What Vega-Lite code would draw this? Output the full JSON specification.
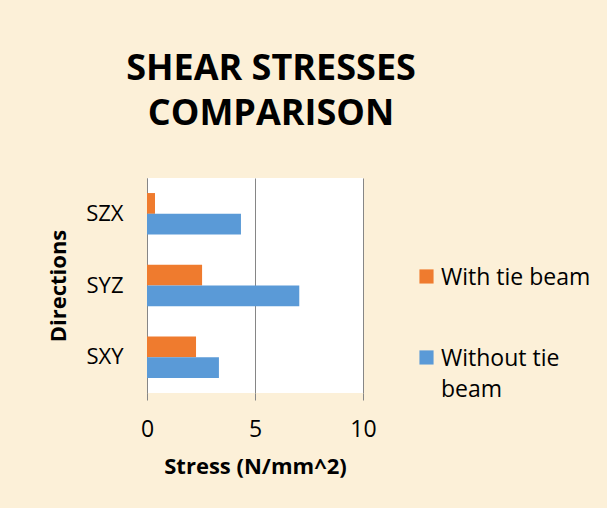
{
  "$schema": "https://vega.github.io/schema/vega-lite/v6.json",
  "width": 216,
  "height": 215,
  "autosize": {"type": "none"},
  "padding": {"left": 147, "top": 178, "right": 244, "bottom": 115},
  "background": "#FCF0D8",
  "config": {
    "view": {"fill": "white", "stroke": null},
    "font": "Open Sans",
    "style": {"guide-label": {"lineHeight": 31}}
  },
  "title": {
    "text": ["SHEAR STRESSES", "COMPARISON"],
    "font": "Open Sans",
    "fontSize": 36,
    "fontWeight": "bold",
    "lineHeight": 45,
    "color": "black",
    "anchor": "middle",
    "dx": 16,
    "offset": 45
  },
  "data": {
    "values": [
      {"direction": "SZX", "series": "With tie beam", "stress": 0.37},
      {"direction": "SZX", "series": "Without tie beam", "stress": 4.35},
      {"direction": "SYZ", "series": "With tie beam", "stress": 2.55},
      {"direction": "SYZ", "series": "Without tie beam", "stress": 7.05},
      {"direction": "SXY", "series": "With tie beam", "stress": 2.27},
      {"direction": "SXY", "series": "Without tie beam", "stress": 3.33}
    ]
  },
  "mark": {"type": "bar"},
  "encoding": {
    "y": {
      "field": "direction",
      "type": "nominal",
      "sort": ["SZX", "SYZ", "SXY"],
      "scale": {"paddingInner": 0.42, "paddingOuter": 0.21},
      "axis": {
        "title": "Directions",
        "titleFont": "Open Sans",
        "titleFontSize": 22,
        "titleFontWeight": "bold",
        "titleColor": "black",
        "titlePadding": 15,
        "labelFont": "Open Sans",
        "labelFontSize": 22,
        "labelColor": "black",
        "labelPadding": 24,
        "ticks": false,
        "domain": true,
        "domainColor": "#868686",
        "domainWidth": 1
      }
    },
    "yOffset": {"field": "series", "sort": ["With tie beam", "Without tie beam"]},
    "x": {
      "field": "stress",
      "type": "quantitative",
      "scale": {"domain": [0, 10]},
      "axis": {
        "title": "Stress (N/mm^2)",
        "values": [0, 5, 10],
        "titleFont": "Open Sans",
        "titleFontSize": 22,
        "titleFontWeight": "bold",
        "titleColor": "black",
        "titlePadding": 15,
        "labelFont": "Open Sans",
        "labelFontSize": 23,
        "labelColor": "black",
        "labelPadding": 18,
        "labelFlush": false,
        "domain": false,
        "grid": true,
        "gridColor": "#868686",
        "gridWidth": 1,
        "ticks": true,
        "tickColor": "#868686",
        "tickSize": 7
      }
    },
    "color": {
      "field": "series",
      "type": "nominal",
      "scale": {"domain": ["With tie beam", "Without tie beam"], "range": ["#EF7B2E", "#5A9AD7"]},
      "legend": {
        "title": null,
        "orient": "none",
        "legendX": 268,
        "legendY": 77,
        "symbolType": "M-1,0.41H1V2.41H-1Z",
        "symbolSize": 200,
        "symbolStrokeWidth": 0,
        "labelFont": "Open Sans",
        "labelFontSize": 23,
        "labelColor": "black",
        "labelBaseline": "top",
        "labelOffset": 3,
        "rowPadding": 46,
        "labelLimit": 300,
        "labelExpr": "datum.label == 'Without tie beam' ? ['Without tie', 'beam'] : datum.label"
      }
    }
  }
}
